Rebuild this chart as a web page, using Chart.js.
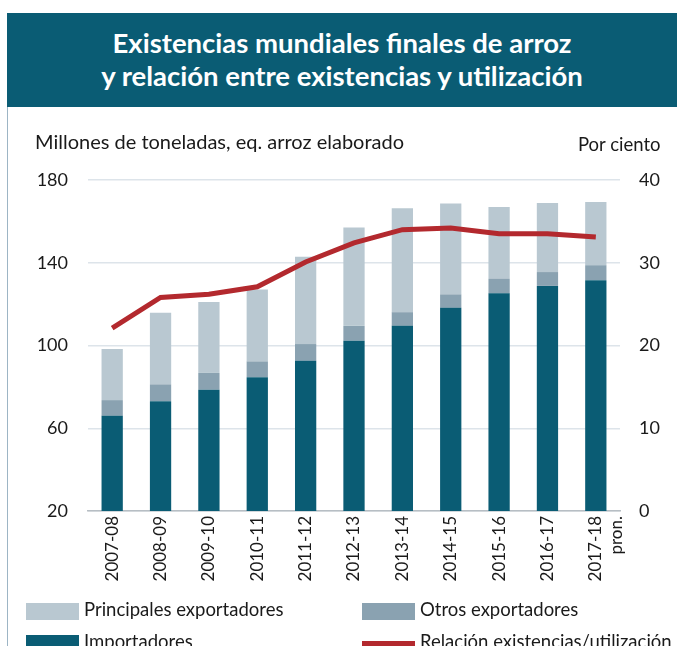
<!DOCTYPE html>
<html>
<head>
<meta charset="utf-8">
<script src="https://cdn.jsdelivr.net/npm/chart.js@4.4.1/dist/chart.umd.min.js"></script>
<style>
html,body{margin:0;padding:0;background:#fff}
body{width:677px;height:646px;position:relative;overflow:hidden;font-family:Lato,"Open Sans",sans-serif;color:#1a1a1a}
#marco{position:absolute;left:7px;top:13px;width:1px;height:640px;background:#9db5c5}
#banner{position:absolute;left:7px;top:13px;width:670px;height:94px;background:#0a5c74;color:#fff;
font-weight:bold;font-size:27.5px;line-height:33px;text-align:center;padding-top:13px;box-sizing:border-box}
#titIzq{position:absolute;left:35px;top:129px;font-size:20px}
#titDer{position:absolute;left:578px;top:133px;font-size:18.5px}
#grafico{position:absolute;left:0;top:0}
.ley{position:absolute;font-size:18.5px;line-height:20px;white-space:nowrap}
.ley span{display:inline-block;vertical-align:middle;margin-right:5px}
</style>
</head>
<body>
<canvas id="grafico" width="677" height="646"></canvas>
<div id="marco"></div>
<div id="banner">Existencias mundiales finales de arroz<br>y relación entre existencias y utilización</div>
<div id="titIzq">Millones de toneladas, eq. arroz elaborado</div>
<div id="titDer">Por ciento</div>
<div id="leyenda"></div>
<script>

/* =========================
DATOS
========================= */

const campanas = ["2007-08","2008-09","2009-10","2010-11","2011-12","2012-13","2013-14","2014-15","2015-16","2016-17",["2017-18","pron."]]

const importadores = [66.0, 73.1, 78.6, 84.7, 92.6, 102.3, 109.5, 118.2, 125.2, 128.8, 131.6]
const otrosExportadores = [7.6, 8.1, 8.2, 7.6, 8.1, 7.2, 6.6, 6.5, 7.0, 6.7, 7.2]
const principalesExportadores = [24.7, 34.6, 34.2, 34.8, 42.2, 47.5, 50.3, 43.9, 34.7, 33.4, 30.6]
const relacion = [22.1, 25.8, 26.2, 27.1, 30.1, 32.4, 34.0, 34.2, 33.5, 33.5, 33.1]

const ticksIzq = [20, 60, 100, 140, 180]
const ticksDer = [0, 10, 20, 30, 40]

const fuente = "Lato, 'Open Sans', sans-serif"


/* =========================
GRAFICO
========================= */

const datasets = [
{
type:"line",
label:"Relación existencias/utilización",
data:relacion,
yAxisID:"yDer",
borderColor:"#b3292e",
backgroundColor:"#b3292e",
borderWidth:5,
pointRadius:0,
tension:0,
order:0
},
{
label:"Importadores",
data:importadores,
backgroundColor:"#0a5c74",
stack:"s",
order:1
},
{
label:"Otros exportadores",
data:otrosExportadores,
backgroundColor:"#8aa2b1",
stack:"s",
order:1
},
{
label:"Principales exportadores",
data:principalesExportadores,
backgroundColor:"#b9c8d1",
stack:"s",
order:1
}
]

new Chart(document.getElementById("grafico"),{

type:"bar",

data:{
labels:campanas,
datasets:datasets
},

options:{
responsive:false,
animation:false,
devicePixelRatio:1,
barPercentage:0.44,
categoryPercentage:1,
layout:{padding:{top:180,left:0,right:0,bottom:0}},
plugins:{
legend:{display:false},
tooltip:{enabled:false}
},
scales:{
x:{
stacked:true,
afterFit:s => { s.height = 135 },
grid:{display:false, drawTicks:false},
border:{display:true, color:"#b7bec4", width:1.5},
ticks:{
color:"#1a1a1a",
font:{family:fuente, size:17},
minRotation:90,
maxRotation:90,
autoSkip:false,
padding:5
}
},
y:{
stacked:true,
position:"left",
min:20,
max:180,
afterFit:s => { s.width = 88 },
afterBuildTicks:s => { s.ticks = ticksIzq.map(v => ({value:v})) },
grid:{color:"#dde4ea", lineWidth:1.5, drawTicks:false},
border:{display:false},
ticks:{
color:"#1a1a1a",
font:{family:fuente, size:18},
padding:20
}
},
yDer:{
position:"right",
min:0,
max:40,
afterFit:s => { s.width = 57 },
afterBuildTicks:s => { s.ticks = ticksDer.map(v => ({value:v})) },
grid:{display:false, drawTicks:false},
border:{display:false},
ticks:{
color:"#1a1a1a",
font:{family:fuente, size:18},
padding:19
}
}
}
}

})


/* =========================
LEYENDA
========================= */

const posLeyenda = {
"Principales exportadores":[26,599],
"Otros exportadores":[362,599],
"Importadores":[26,631],
"Relación existencias/utilización":[362,631]
}

let html = ""

datasets.forEach(function(d){

let p = posLeyenda[d.label]
let muestra = d.type == "line"
? `<span style="width:53px;height:5px;background:${d.borderColor}"></span>`
: `<span style="width:53px;height:17px;background:${d.backgroundColor}"></span>`

html += `<div class="ley" style="left:${p[0]}px;top:${p[1]}px">${muestra}${d.label}</div>`

})

document.getElementById("leyenda").innerHTML = html

</script>
</body>
</html>
